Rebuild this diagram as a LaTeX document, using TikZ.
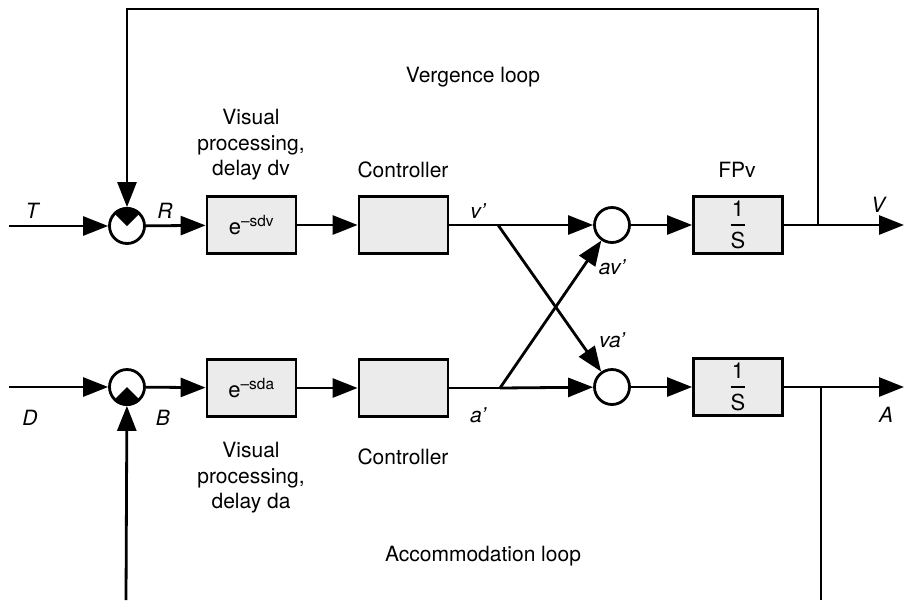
\documentclass[tikz,border=0pt]{standalone}
\usepackage{fontspec}
\setmainfont{TeX Gyre Heros}
\usepackage{amsmath}
\usetikzlibrary{arrows.meta}
\begin{document}
\begin{tikzpicture}[x=1pt,y=-1pt,
  line width=2.8pt,
  >={Triangle[length=25pt,width=19pt]},
  blk/.style={draw, fill=black!8, minimum width=89pt, minimum height=57pt, inner sep=0pt, line width=2.8pt, font=\fontsize{22}{26}\selectfont},
  sumc/.style={draw, circle, minimum size=35pt, inner sep=0pt, line width=2.8pt, fill=white},
  txt/.style={font=\fontsize{21}{25.5}\selectfont, align=center, inner sep=0pt},
  lbl/.style={font=\fontsize{21}{25}\selectfont\itshape, inner sep=0pt}]
\useasboundingbox (0,0) rectangle (904,600);
% summing junctions
\node[sumc] (sR) at (127,226) {};
\node[sumc] (sB) at (127,387) {};
\node[sumc] (s1) at (612,225) {};
\node[sumc] (s2) at (612,387) {};
% blocks
\node[blk] (dv) at (251.5,225) {e\textsuperscript{–sdv}};
\node[blk] (cv) at (403.5,225) {};
\node[blk] (da) at (251.5,388) {e\textsuperscript{–sda}};
\node[blk] (ca) at (403.5,388) {};
\node[blk] (fv) at (738,225) {$\genfrac{}{}{2pt}{0}{\text{1}}{\text{S}}$};
\node[blk] (fa) at (738,387) {$\genfrac{}{}{2pt}{0}{\text{1}}{\text{S}}$};
% coordinates
\coordinate (Tin) at (9,226);
\coordinate (Din) at (9,387);
\coordinate (bv) at (498,225);
\coordinate (ba) at (500,388);
\coordinate (ov) at (818,225);
\coordinate (oa) at (821,387);
\coordinate (endV) at (904,225);
\coordinate (endA) at (904,387);
\coordinate (tr) at (818,9);
\coordinate (br) at (821,600);
\coordinate (bl) at (126,600);
% connectors
\draw[->] (Tin) -- (sR);
\draw[->] (Din) -- (sB);
\draw[->] (sR) -- (dv);
\draw[->] (sB) -- (da);
\draw[->] (dv) -- (cv);
\draw[->] (da) -- (ca);
\draw (cv) -- (bv);
\draw (ca) -- (ba);
\draw[->] (bv) -- (s1);
\draw[->] (ba) -- (s2);
\draw[->] (bv) -- (s2);
\draw[->] (ba) -- (s1);
\draw[->] (s1) -- (fv);
\draw[->] (s2) -- (fa);
\draw[->] (fv) -- (endV);
\draw[->] (fa) -- (endA);
\draw[->] (ov) -- (tr) -| (sR);
\draw (oa) -- (br);
\draw[->] (bl) -- (sB);
% filled sectors in comparators
\fill (sR.center) -- (sR.45) -- (sR.55) -- (sR.65) -- (sR.75) -- (sR.85) -- (sR.95) -- (sR.105) -- (sR.115) -- (sR.125) -- (sR.135) -- cycle;
\fill (sB.center) -- (sB.225) -- (sB.235) -- (sB.245) -- (sB.255) -- (sB.265) -- (sB.275) -- (sB.285) -- (sB.295) -- (sB.305) -- (sB.315) -- cycle;
% texts
\node[txt] (vl) at (473,77) {Vergence loop};
\node[txt] (vpv) at (251,145) {Visual\\processing,\\delay dv};
\node[txt] (ctv) at (403,170) {Controller};
\node[txt] (fpv) at (737,170) {FPv};
\node[txt] (vpa) at (251,478) {Visual\\processing,\\delay da};
\node[txt] (cta) at (403,457) {Controller};
\node[txt] (al) at (483,556) {Accommodation loop};
% signal labels
\node[lbl] (lT) at (32,211) {T};
\node[lbl] (lR) at (165,211) {R};
\node[lbl] (lD) at (30,418) {D};
\node[lbl] (lB) at (163,418) {B};
\node[lbl] (lv) at (478,211) {v'};
\node[lbl] (la) at (478,415) {a'};
\node[lbl] (lav) at (612,267) {av'};
\node[lbl] (lva) at (612,340) {va'};
\node[lbl] (lV) at (878,205) {V};
\node[lbl] (lA) at (886,415) {A};
\end{tikzpicture}
\end{document}
